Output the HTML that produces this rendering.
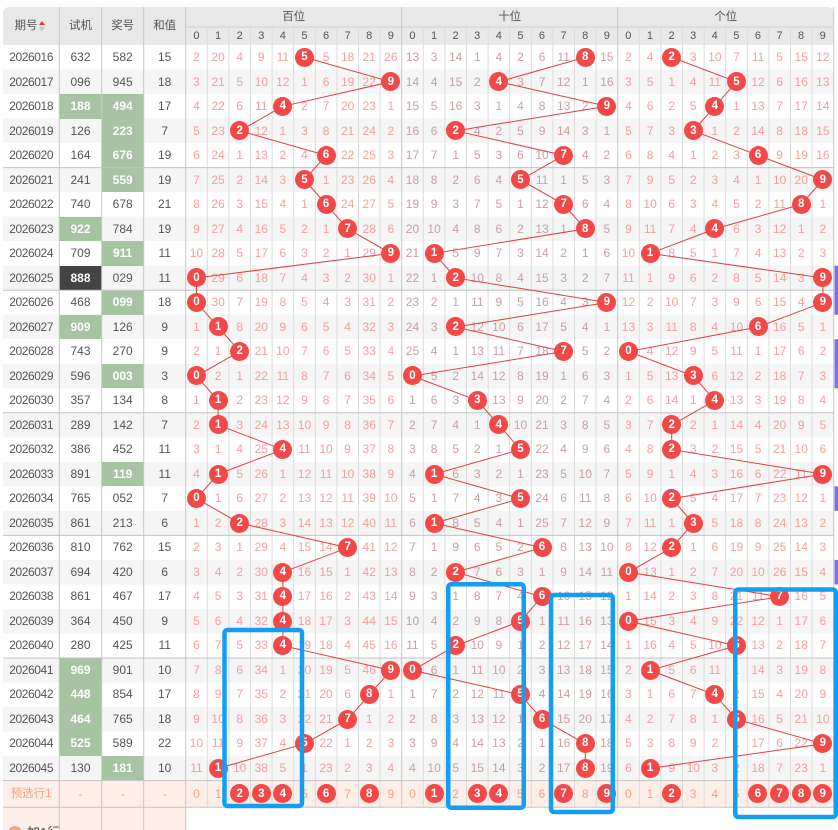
<!DOCTYPE html>
<html><head><meta charset="utf-8">
<style>
body{margin:0;width:838px;height:830px;overflow:hidden;background:#fff;position:relative;font-family:"Liberation Sans","Noto Sans CJK SC",sans-serif}
.a{position:absolute}
#bg{left:3px;top:45px;width:830.7px;height:735.6px;background:repeating-linear-gradient(to bottom,#fff 0px,#fff 24.52px,#f5f5f5 24.52px,#f5f5f5 49.04px)}
#H{left:3px;top:7px;width:830.7px;height:38px;background:#e8e8e8;border-radius:6px 6px 0 0}
.ht{position:absolute;font-size:11.5px;color:#555;text-align:center;line-height:14px}
#HD{left:185.7px;top:27px;display:grid;grid-template-columns:repeat(30,21.6px);line-height:18px;font-size:11px;color:#555;text-align:center}
.gr{position:absolute;top:45px;display:grid;grid-auto-rows:24.52px;line-height:24.52px;font-size:12px;text-align:center}
i{font-style:normal;display:block}
#L{left:3px;grid-template-columns:56.3px 42.4px 42px 42px;color:#555}
#L i:nth-child(4n+1){letter-spacing:-.4px}
#B,#S,#G{grid-template-columns:repeat(10,21.6px)}
#B{left:185.7px;color:#f59e9e}
#S{left:401.7px;color:#c9a0a0}
#G{left:617.7px;color:#f59e9e}
.g{background:#a6c4a1;color:#fff;font-weight:bold}
.k{background:#444;color:#fff;font-weight:bold}
b{display:block;position:relative;z-index:2;color:#fff;font-weight:bold;font-size:11.5px;text-align:center}
b:before{content:"";position:absolute;left:50%;top:50%;width:19px;height:19px;margin:-9.5px 0 0 -9.5px;border-radius:50%;background:#f34848;z-index:-1}
#P{left:3px;top:780.6px;width:830.7px;height:26.7px;background:#fdefe8}
#PG{display:grid;grid-template-columns:56.3px 42.4px 42px 42px repeat(30,21.6px);line-height:26.7px;height:26.7px;font-size:12px;color:#f3a283;text-align:center}
#PG i:first-child{font-size:11.5px}
#A{left:3px;top:807.3px;width:182.7px;height:23px;background:#fdefe8;overflow:hidden}
svg{position:absolute;left:0;top:0}
</style></head><body>
<div class="a" id="bg"></div>
<div class="a" id="H">
<span class="ht" style="left:8px;top:12px;width:30px">期号</span>
<span class="a" style="left:36px;top:14px;width:0;height:0;border-left:3px solid transparent;border-right:3px solid transparent;border-bottom:4px solid #e53935"></span>
<span class="a" style="left:36px;top:19.5px;width:0;height:0;border-left:3px solid transparent;border-right:3px solid transparent;border-top:4px solid #c4c4c4"></span>
<span class="ht" style="left:56.3px;top:12px;width:42.4px">试机</span>
<span class="ht" style="left:98.7px;top:12px;width:42px">奖号</span>
<span class="ht" style="left:140.7px;top:12px;width:42px">和值</span>
<span class="ht" style="left:182.7px;top:3px;width:216px">百位</span>
<span class="ht" style="left:398.7px;top:3px;width:216px">十位</span>
<span class="ht" style="left:614.7px;top:3px;width:216px">个位</span>
</div>
<div class="a" id="HD"><i>0</i><i>1</i><i>2</i><i>3</i><i>4</i><i>5</i><i>6</i><i>7</i><i>8</i><i>9</i><i>0</i><i>1</i><i>2</i><i>3</i><i>4</i><i>5</i><i>6</i><i>7</i><i>8</i><i>9</i><i>0</i><i>1</i><i>2</i><i>3</i><i>4</i><i>5</i><i>6</i><i>7</i><i>8</i><i>9</i></div>

<div class="gr" id="L">
<i>2026016</i><i>632</i><i>582</i><i>15</i>
<i>2026017</i><i>096</i><i>945</i><i>18</i>
<i>2026018</i><i class="g">188</i><i class="g">494</i><i>17</i>
<i>2026019</i><i>126</i><i class="g">223</i><i>7</i>
<i>2026020</i><i>164</i><i class="g">676</i><i>19</i>
<i>2026021</i><i>241</i><i class="g">559</i><i>19</i>
<i>2026022</i><i>740</i><i>678</i><i>21</i>
<i>2026023</i><i class="g">922</i><i>784</i><i>19</i>
<i>2026024</i><i>709</i><i class="g">911</i><i>11</i>
<i>2026025</i><i class="k">888</i><i>029</i><i>11</i>
<i>2026026</i><i>468</i><i class="g">099</i><i>18</i>
<i>2026027</i><i class="g">909</i><i>126</i><i>9</i>
<i>2026028</i><i>743</i><i>270</i><i>9</i>
<i>2026029</i><i>596</i><i class="g">003</i><i>3</i>
<i>2026030</i><i>357</i><i>134</i><i>8</i>
<i>2026031</i><i>289</i><i>142</i><i>7</i>
<i>2026032</i><i>386</i><i>452</i><i>11</i>
<i>2026033</i><i>891</i><i class="g">119</i><i>11</i>
<i>2026034</i><i>765</i><i>052</i><i>7</i>
<i>2026035</i><i>861</i><i>213</i><i>6</i>
<i>2026036</i><i>810</i><i>762</i><i>15</i>
<i>2026037</i><i>694</i><i>420</i><i>6</i>
<i>2026038</i><i>861</i><i>467</i><i>17</i>
<i>2026039</i><i>364</i><i>450</i><i>9</i>
<i>2026040</i><i>280</i><i>425</i><i>11</i>
<i>2026041</i><i class="g">969</i><i>901</i><i>10</i>
<i>2026042</i><i class="g">448</i><i>854</i><i>17</i>
<i>2026043</i><i class="g">464</i><i>765</i><i>18</i>
<i>2026044</i><i class="g">525</i><i>589</i><i>22</i>
<i>2026045</i><i>130</i><i class="g">181</i><i>10</i>
</div>

<div class="gr" id="B">
<i>2</i><i>20</i><i>4</i><i>9</i><i>11</i><b>5</b><i>5</i><i>18</i><i>21</i><i>26</i>
<i>3</i><i>21</i><i>5</i><i>10</i><i>12</i><i>1</i><i>6</i><i>19</i><i>22</i><b>9</b>
<i>4</i><i>22</i><i>6</i><i>11</i><b>4</b><i>2</i><i>7</i><i>20</i><i>23</i><i>1</i>
<i>5</i><i>23</i><b>2</b><i>12</i><i>1</i><i>3</i><i>8</i><i>21</i><i>24</i><i>2</i>
<i>6</i><i>24</i><i>1</i><i>13</i><i>2</i><i>4</i><b>6</b><i>22</i><i>25</i><i>3</i>
<i>7</i><i>25</i><i>2</i><i>14</i><i>3</i><b>5</b><i>1</i><i>23</i><i>26</i><i>4</i>
<i>8</i><i>26</i><i>3</i><i>15</i><i>4</i><i>1</i><b>6</b><i>24</i><i>27</i><i>5</i>
<i>9</i><i>27</i><i>4</i><i>16</i><i>5</i><i>2</i><i>1</i><b>7</b><i>28</i><i>6</i>
<i>10</i><i>28</i><i>5</i><i>17</i><i>6</i><i>3</i><i>2</i><i>1</i><i>29</i><b>9</b>
<b>0</b><i>29</i><i>6</i><i>18</i><i>7</i><i>4</i><i>3</i><i>2</i><i>30</i><i>1</i>
<b>0</b><i>30</i><i>7</i><i>19</i><i>8</i><i>5</i><i>4</i><i>3</i><i>31</i><i>2</i>
<i>1</i><b>1</b><i>8</i><i>20</i><i>9</i><i>6</i><i>5</i><i>4</i><i>32</i><i>3</i>
<i>2</i><i>1</i><b>2</b><i>21</i><i>10</i><i>7</i><i>6</i><i>5</i><i>33</i><i>4</i>
<b>0</b><i>2</i><i>1</i><i>22</i><i>11</i><i>8</i><i>7</i><i>6</i><i>34</i><i>5</i>
<i>1</i><b>1</b><i>2</i><i>23</i><i>12</i><i>9</i><i>8</i><i>7</i><i>35</i><i>6</i>
<i>2</i><b>1</b><i>3</i><i>24</i><i>13</i><i>10</i><i>9</i><i>8</i><i>36</i><i>7</i>
<i>3</i><i>1</i><i>4</i><i>25</i><b>4</b><i>11</i><i>10</i><i>9</i><i>37</i><i>8</i>
<i>4</i><b>1</b><i>5</i><i>26</i><i>1</i><i>12</i><i>11</i><i>10</i><i>38</i><i>9</i>
<b>0</b><i>1</i><i>6</i><i>27</i><i>2</i><i>13</i><i>12</i><i>11</i><i>39</i><i>10</i>
<i>1</i><i>2</i><b>2</b><i>28</i><i>3</i><i>14</i><i>13</i><i>12</i><i>40</i><i>11</i>
<i>2</i><i>3</i><i>1</i><i>29</i><i>4</i><i>15</i><i>14</i><b>7</b><i>41</i><i>12</i>
<i>3</i><i>4</i><i>2</i><i>30</i><b>4</b><i>16</i><i>15</i><i>1</i><i>42</i><i>13</i>
<i>4</i><i>5</i><i>3</i><i>31</i><b>4</b><i>17</i><i>16</i><i>2</i><i>43</i><i>14</i>
<i>5</i><i>6</i><i>4</i><i>32</i><b>4</b><i>18</i><i>17</i><i>3</i><i>44</i><i>15</i>
<i>6</i><i>7</i><i>5</i><i>33</i><b>4</b><i>19</i><i>18</i><i>4</i><i>45</i><i>16</i>
<i>7</i><i>8</i><i>6</i><i>34</i><i>1</i><i>20</i><i>19</i><i>5</i><i>46</i><b>9</b>
<i>8</i><i>9</i><i>7</i><i>35</i><i>2</i><i>21</i><i>20</i><i>6</i><b>8</b><i>1</i>
<i>9</i><i>10</i><i>8</i><i>36</i><i>3</i><i>22</i><i>21</i><b>7</b><i>1</i><i>2</i>
<i>10</i><i>11</i><i>9</i><i>37</i><i>4</i><b>5</b><i>22</i><i>1</i><i>2</i><i>3</i>
<i>11</i><b>1</b><i>10</i><i>38</i><i>5</i><i>1</i><i>23</i><i>2</i><i>3</i><i>4</i>
</div>

<div class="gr" id="S">
<i>13</i><i>3</i><i>14</i><i>1</i><i>4</i><i>2</i><i>6</i><i>11</i><b>8</b><i>15</i>
<i>14</i><i>4</i><i>15</i><i>2</i><b>4</b><i>3</i><i>7</i><i>12</i><i>1</i><i>16</i>
<i>15</i><i>5</i><i>16</i><i>3</i><i>1</i><i>4</i><i>8</i><i>13</i><i>2</i><b>9</b>
<i>16</i><i>6</i><b>2</b><i>4</i><i>2</i><i>5</i><i>9</i><i>14</i><i>3</i><i>1</i>
<i>17</i><i>7</i><i>1</i><i>5</i><i>3</i><i>6</i><i>10</i><b>7</b><i>4</i><i>2</i>
<i>18</i><i>8</i><i>2</i><i>6</i><i>4</i><b>5</b><i>11</i><i>1</i><i>5</i><i>3</i>
<i>19</i><i>9</i><i>3</i><i>7</i><i>5</i><i>1</i><i>12</i><b>7</b><i>6</i><i>4</i>
<i>20</i><i>10</i><i>4</i><i>8</i><i>6</i><i>2</i><i>13</i><i>1</i><b>8</b><i>5</i>
<i>21</i><b>1</b><i>5</i><i>9</i><i>7</i><i>3</i><i>14</i><i>2</i><i>1</i><i>6</i>
<i>22</i><i>1</i><b>2</b><i>10</i><i>8</i><i>4</i><i>15</i><i>3</i><i>2</i><i>7</i>
<i>23</i><i>2</i><i>1</i><i>11</i><i>9</i><i>5</i><i>16</i><i>4</i><i>3</i><b>9</b>
<i>24</i><i>3</i><b>2</b><i>12</i><i>10</i><i>6</i><i>17</i><i>5</i><i>4</i><i>1</i>
<i>25</i><i>4</i><i>1</i><i>13</i><i>11</i><i>7</i><i>18</i><b>7</b><i>5</i><i>2</i>
<b>0</b><i>5</i><i>2</i><i>14</i><i>12</i><i>8</i><i>19</i><i>1</i><i>6</i><i>3</i>
<i>1</i><i>6</i><i>3</i><b>3</b><i>13</i><i>9</i><i>20</i><i>2</i><i>7</i><i>4</i>
<i>2</i><i>7</i><i>4</i><i>1</i><b>4</b><i>10</i><i>21</i><i>3</i><i>8</i><i>5</i>
<i>3</i><i>8</i><i>5</i><i>2</i><i>1</i><b>5</b><i>22</i><i>4</i><i>9</i><i>6</i>
<i>4</i><b>1</b><i>6</i><i>3</i><i>2</i><i>1</i><i>23</i><i>5</i><i>10</i><i>7</i>
<i>5</i><i>1</i><i>7</i><i>4</i><i>3</i><b>5</b><i>24</i><i>6</i><i>11</i><i>8</i>
<i>6</i><b>1</b><i>8</i><i>5</i><i>4</i><i>1</i><i>25</i><i>7</i><i>12</i><i>9</i>
<i>7</i><i>1</i><i>9</i><i>6</i><i>5</i><i>2</i><b>6</b><i>8</i><i>13</i><i>10</i>
<i>8</i><i>2</i><b>2</b><i>7</i><i>6</i><i>3</i><i>1</i><i>9</i><i>14</i><i>11</i>
<i>9</i><i>3</i><i>1</i><i>8</i><i>7</i><i>4</i><b>6</b><i>10</i><i>15</i><i>12</i>
<i>10</i><i>4</i><i>2</i><i>9</i><i>8</i><b>5</b><i>1</i><i>11</i><i>16</i><i>13</i>
<i>11</i><i>5</i><b>2</b><i>10</i><i>9</i><i>1</i><i>2</i><i>12</i><i>17</i><i>14</i>
<b>0</b><i>6</i><i>1</i><i>11</i><i>10</i><i>2</i><i>3</i><i>13</i><i>18</i><i>15</i>
<i>1</i><i>7</i><i>2</i><i>12</i><i>11</i><b>5</b><i>4</i><i>14</i><i>19</i><i>16</i>
<i>2</i><i>8</i><i>3</i><i>13</i><i>12</i><i>1</i><b>6</b><i>15</i><i>20</i><i>17</i>
<i>3</i><i>9</i><i>4</i><i>14</i><i>13</i><i>2</i><i>1</i><i>16</i><b>8</b><i>18</i>
<i>4</i><i>10</i><i>5</i><i>15</i><i>14</i><i>3</i><i>2</i><i>17</i><b>8</b><i>19</i>
</div>

<div class="gr" id="G">
<i>2</i><i>4</i><b>2</b><i>3</i><i>10</i><i>7</i><i>11</i><i>5</i><i>15</i><i>12</i>
<i>3</i><i>5</i><i>1</i><i>4</i><i>11</i><b>5</b><i>12</i><i>6</i><i>16</i><i>13</i>
<i>4</i><i>6</i><i>2</i><i>5</i><b>4</b><i>1</i><i>13</i><i>7</i><i>17</i><i>14</i>
<i>5</i><i>7</i><i>3</i><b>3</b><i>1</i><i>2</i><i>14</i><i>8</i><i>18</i><i>15</i>
<i>6</i><i>8</i><i>4</i><i>1</i><i>2</i><i>3</i><b>6</b><i>9</i><i>19</i><i>16</i>
<i>7</i><i>9</i><i>5</i><i>2</i><i>3</i><i>4</i><i>1</i><i>10</i><i>20</i><b>9</b>
<i>8</i><i>10</i><i>6</i><i>3</i><i>4</i><i>5</i><i>2</i><i>11</i><b>8</b><i>1</i>
<i>9</i><i>11</i><i>7</i><i>4</i><b>4</b><i>6</i><i>3</i><i>12</i><i>1</i><i>2</i>
<i>10</i><b>1</b><i>8</i><i>5</i><i>1</i><i>7</i><i>4</i><i>13</i><i>2</i><i>3</i>
<i>11</i><i>1</i><i>9</i><i>6</i><i>2</i><i>8</i><i>5</i><i>14</i><i>3</i><b>9</b>
<i>12</i><i>2</i><i>10</i><i>7</i><i>3</i><i>9</i><i>6</i><i>15</i><i>4</i><b>9</b>
<i>13</i><i>3</i><i>11</i><i>8</i><i>4</i><i>10</i><b>6</b><i>16</i><i>5</i><i>1</i>
<b>0</b><i>4</i><i>12</i><i>9</i><i>5</i><i>11</i><i>1</i><i>17</i><i>6</i><i>2</i>
<i>1</i><i>5</i><i>13</i><b>3</b><i>6</i><i>12</i><i>2</i><i>18</i><i>7</i><i>3</i>
<i>2</i><i>6</i><i>14</i><i>1</i><b>4</b><i>13</i><i>3</i><i>19</i><i>8</i><i>4</i>
<i>3</i><i>7</i><b>2</b><i>2</i><i>1</i><i>14</i><i>4</i><i>20</i><i>9</i><i>5</i>
<i>4</i><i>8</i><b>2</b><i>3</i><i>2</i><i>15</i><i>5</i><i>21</i><i>10</i><i>6</i>
<i>5</i><i>9</i><i>1</i><i>4</i><i>3</i><i>16</i><i>6</i><i>22</i><i>11</i><b>9</b>
<i>6</i><i>10</i><b>2</b><i>5</i><i>4</i><i>17</i><i>7</i><i>23</i><i>12</i><i>1</i>
<i>7</i><i>11</i><i>1</i><b>3</b><i>5</i><i>18</i><i>8</i><i>24</i><i>13</i><i>2</i>
<i>8</i><i>12</i><b>2</b><i>1</i><i>6</i><i>19</i><i>9</i><i>25</i><i>14</i><i>3</i>
<b>0</b><i>13</i><i>1</i><i>2</i><i>7</i><i>20</i><i>10</i><i>26</i><i>15</i><i>4</i>
<i>1</i><i>14</i><i>2</i><i>3</i><i>8</i><i>21</i><i>11</i><b>7</b><i>16</i><i>5</i>
<b>0</b><i>15</i><i>3</i><i>4</i><i>9</i><i>22</i><i>12</i><i>1</i><i>17</i><i>6</i>
<i>1</i><i>16</i><i>4</i><i>5</i><i>10</i><b>5</b><i>13</i><i>2</i><i>18</i><i>7</i>
<i>2</i><b>1</b><i>5</i><i>6</i><i>11</i><i>1</i><i>14</i><i>3</i><i>19</i><i>8</i>
<i>3</i><i>1</i><i>6</i><i>7</i><b>4</b><i>2</i><i>15</i><i>4</i><i>20</i><i>9</i>
<i>4</i><i>2</i><i>7</i><i>8</i><i>1</i><b>5</b><i>16</i><i>5</i><i>21</i><i>10</i>
<i>5</i><i>3</i><i>8</i><i>9</i><i>2</i><i>1</i><i>17</i><i>6</i><i>22</i><b>9</b>
<i>6</i><b>1</b><i>9</i><i>10</i><i>3</i><i>2</i><i>18</i><i>7</i><i>23</i><i>1</i>
</div>

<div class="a" id="P"><div id="PG">
<i>预选行1</i><i>-</i><i>-</i><i>-</i>
<i>0</i><i>1</i><b>2</b><b>3</b><b>4</b><i>5</i><b>6</b><i>7</i><b>8</b><i>9</i>
<i>0</i><b>1</b><i>2</i><b>3</b><b>4</b><i>5</i><i>6</i><b>7</b><i>8</i><b>9</b>
<i>0</i><i>1</i><b>2</b><i>3</i><i>4</i><i>5</i><b>6</b><b>7</b><b>8</b><b>9</b>
</div></div>

<div class="a" id="A">
<span class="a" style="left:5px;top:18.5px;width:14px;height:14px;border-radius:50%;background:#f4a27e"></span>
<span class="a" style="left:24px;top:17px;font-size:13px;line-height:18px;color:#444">加1行</span>
</div>

<svg width="838" height="830" style="z-index:1" xmlns="http://www.w3.org/2000/svg">
<path d="M207.3 27V807.3M228.9 27V807.3M250.5 27V807.3M272.1 27V807.3M293.7 27V807.3M315.3 27V807.3M336.9 27V807.3M358.5 27V807.3M380.1 27V807.3M423.3 27V807.3M444.9 27V807.3M466.5 27V807.3M488.1 27V807.3M509.7 27V807.3M531.3 27V807.3M552.9 27V807.3M574.5 27V807.3M596.1 27V807.3M639.3 27V807.3M660.9 27V807.3M682.5 27V807.3M704.1 27V807.3M725.7 27V807.3M747.3 27V807.3M768.9 27V807.3M790.5 27V807.3M812.1 27V807.3" stroke="#dcdcdc" stroke-width="1" fill="none"/>
<path d="M185.7 27H833.7" stroke="#d2d2d2" stroke-width="1"/>
<path d="M59.3 7V830M101.7 7V830M143.7 7V830M185.7 7V830M401.7 7V807.3M617.7 7V807.3M833.7 7V807.3" stroke="#c8c8c8" stroke-width="1" fill="none"/>
<path d="M3 167.6H833.7M3 290.2H833.7M3 412.8H833.7M3 535.4H833.7M3 658H833.7M3 780.6H833.7M3 807.3H833.7" stroke="#c4c4c4" stroke-width="1" fill="none"/>
<g fill="none" stroke="#e23e3e" stroke-width="1">
<polyline points="304.5,57.26 390.9,81.78 282.9,106.3 239.7,130.82 326.1,155.34 304.5,179.86 326.1,204.38 347.7,228.9 390.9,253.42 196.5,277.94 196.5,302.46 218.1,326.98 239.7,351.5 196.5,376.02 218.1,400.54 218.1,425.06 282.9,449.58 218.1,474.1 196.5,498.62 239.7,523.14 347.7,547.66 282.9,572.18 282.9,596.7 282.9,621.22 282.9,645.74 390.9,670.26 369.3,694.78 347.7,719.3 304.5,743.82 218.1,768.34"/>
<polyline points="585.3,57.26 498.9,81.78 606.9,106.3 455.7,130.82 563.7,155.34 520.5,179.86 563.7,204.38 585.3,228.9 434.1,253.42 455.7,277.94 606.9,302.46 455.7,326.98 563.7,351.5 412.5,376.02 477.3,400.54 498.9,425.06 520.5,449.58 434.1,474.1 520.5,498.62 434.1,523.14 542.1,547.66 455.7,572.18 542.1,596.7 520.5,621.22 455.7,645.74 412.5,670.26 520.5,694.78 542.1,719.3 585.3,743.82 585.3,768.34"/>
<polyline points="671.7,57.26 736.5,81.78 714.9,106.3 693.3,130.82 758.1,155.34 822.9,179.86 801.3,204.38 714.9,228.9 650.1,253.42 822.9,277.94 822.9,302.46 758.1,326.98 628.5,351.5 693.3,376.02 714.9,400.54 671.7,425.06 671.7,449.58 822.9,474.1 671.7,498.62 693.3,523.14 671.7,547.66 628.5,572.18 779.7,596.7 628.5,621.22 736.5,645.74 650.1,670.26 714.9,694.78 736.5,719.3 822.9,743.82 650.1,768.34"/>
</g>
</svg>

<svg width="838" height="830" style="z-index:3" xmlns="http://www.w3.org/2000/svg">
<g fill="#7b6ef3">
<rect x="834.5" y="265.68" width="3.5" height="49.04"/>
<rect x="834.5" y="339.24" width="3.5" height="49.04"/>
<rect x="834.5" y="486.36" width="3.5" height="24.52"/>
<rect x="834.5" y="559.92" width="3.5" height="24.52"/>
<rect x="834.5" y="608.96" width="3.5" height="24.52"/>
<rect x="834.5" y="658" width="3.5" height="24.52"/>
</g>
<g fill="none" stroke="#139ef2" stroke-width="4.5">
<rect x="224.5" y="630" width="77.5" height="176" rx="3"/>
<rect x="448.25" y="584.25" width="75.5" height="223.5" rx="3"/>
<rect x="551" y="595" width="61.8" height="217" rx="3"/>
<rect x="735.25" y="589.5" width="100.5" height="227.5" rx="3"/>
</g>
</svg>
</body></html>
